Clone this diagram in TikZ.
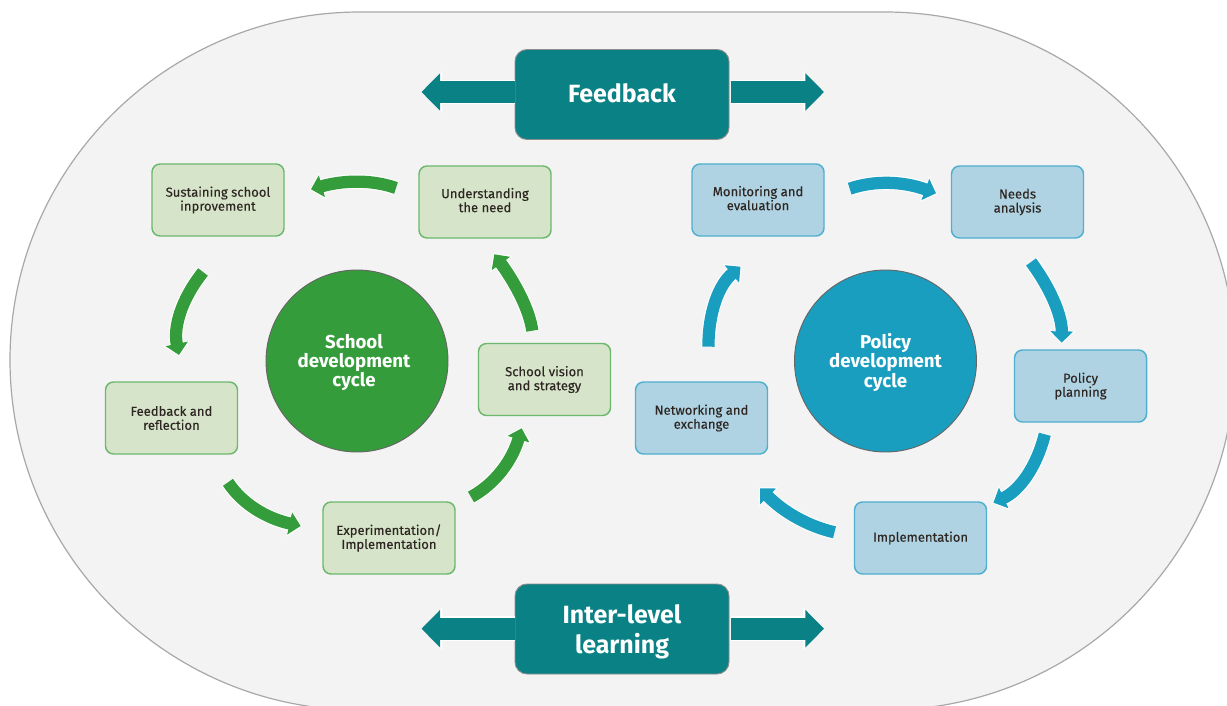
\documentclass[tikz,border=0pt]{standalone}
\usepackage{fontspec}
\setmainfont{Fira Sans}
\newfontfamily\boxfont[FakeBold=0.2]{Fira Sans}
\usetikzlibrary{arrows.meta,calc}
\definecolor{bgfill}{HTML}{F3F3F3}
\definecolor{bgline}{HTML}{A8A8A8}
\definecolor{gfill}{HTML}{D6E5C9}
\definecolor{gline}{HTML}{6DB86E}
\definecolor{gmain}{HTML}{359C3B}
\definecolor{bfill}{HTML}{AFD3E3}
\definecolor{bline}{HTML}{4FB0CF}
\definecolor{bmain}{HTML}{1A9EBF}
\definecolor{tealc}{HTML}{0A8285}
\definecolor{boxtxt}{HTML}{2E2622}
\tikzset{
  boxbase/.style={rectangle,rounded corners=6pt,line width=1.1pt,minimum width=99pt,minimum height=54pt,inner sep=0pt,align=center,text=boxtxt,font=\boxfont\fontsize{9.8}{10.5}\selectfont},
  gbox/.style={boxbase,draw=gline,fill=gfill},
  bbox/.style={boxbase,draw=bline,fill=bfill},
  hub/.style={circle,draw=black!60,line width=.7pt,minimum size=136.5pt,inner sep=0pt,align=center,text=white,font=\bfseries\fontsize{14}{14.3}\selectfont},
  tealbox/.style={rectangle,rounded corners=9pt,draw=black!45,line width=.7pt,fill=tealc,minimum width=160.5pt,minimum height=67.5pt,inner sep=0pt,align=center,text=white,font=\bfseries\fontsize{18.7}{22.4}\selectfont},
  tealhalo/.style={draw=white,line width=18.5pt,-{Triangle[length=15.5pt,width=31pt]}},
  tealarrow/.style={draw=tealc,line width=16.5pt,-{Triangle[length=14pt,width=27.5pt]}},
  curvehalo/.style={draw=white,line width=10.8pt,shorten >=-1pt,-{Triangle[length=10pt,width=20pt]}},
  gcurve/.style={draw=gmain,line width=9.2pt,-{Triangle[length=8.5pt,width=16.5pt]}},
  bcurve/.style={draw=bmain,line width=9.2pt,-{Triangle[length=8.5pt,width=16.5pt]}}
}
% moves a line of text without changing the layout of the node
\newcommand\up[2]{\raisebox{#1}[\height][\depth]{#2}}
% a curve from #2 through #3 to #4 (a parabola written as a cubic)
\newcommand\cyclearrow[4]{%
  \draw[curvehalo] (#2) .. controls ($1.3333*(#3)-0.3333*(#4)$) and ($1.3333*(#3)-0.3333*(#2)$) .. (#4);
  \draw[#1] (#2) .. controls ($1.3333*(#3)-0.3333*(#4)$) and ($1.3333*(#3)-0.3333*(#2)$) .. (#4);}
\newcommand\sidearrow[2]{%
  \draw[tealhalo] (#1) -- (#2);
  \draw[tealarrow] (#1) -- (#2);}
\begin{document}
\begin{tikzpicture}[x=0.75pt,y=-0.75pt]
\useasboundingbox (0,0) rectangle (1227,706);
% outer stadium
\path[fill=bgfill,draw=bgline,line width=.9pt]
  (360,12) -- (885,12)
  .. controls (1078,12) and (1235,168) .. (1235,360)
  .. controls (1235,553) and (1078,710) .. (885,710)
  -- (360,710)
  .. controls (167,710) and (10,553) .. (10,360)
  .. controls (10,168) and (167,12) .. (360,12) -- cycle;

% teal boxes and side arrows
\node[tealbox] (fb) at (622,94.5) {\up{0.8pt}{Feedback}};
\node[tealbox] (il) at (622,629) {\up{-2.2pt}{Inter-level}\\\up{-2.2pt}{learning}};
\coordinate (fbLt) at (421.5,92);
\coordinate (fbRs) at (731,92);
\coordinate (fbRt) at (824,92);
\coordinate (ilLt) at (421.5,628.7);
\coordinate (ilRs) at (731,628.7);
\coordinate (ilRt) at (824,628.7);
\sidearrow{fb.west |- fbLt}{fbLt}
\sidearrow{fbRs}{fbRt}
\sidearrow{il.west |- ilLt}{ilLt}
\sidearrow{ilRs}{ilRt}

% school cycle
\node[hub,fill=gmain] (sc) at (357,361) {\hspace*{-4.5pt}\up{-1.1pt}{School}\\\hspace*{-4.5pt}\up{-1.1pt}{development}\\\hspace*{-4.5pt}\up{-1.1pt}{cycle}};
\node[gbox] (sustain) at (218,200) {Sustaining school\\inprovement};
\node[gbox] (under) at (485,202) {\up{1.4pt}{Understanding}\\\up{1.4pt}{the need}};
\node[gbox] (vision) at (544.5,379.5) {School vision\\and strategy};
\node[gbox] (reflect) at (171.5,418) {Feedback and\\reflection};
\node[gbox] (exper) at (389,538) {Experimentation/\\Implementation};

\coordinate (g1s) at (396,188);     \coordinate (g1m) at (357,182);     \coordinate (g1e) at (311,189.3);
\coordinate (g2s) at (203,272);     \coordinate (g2m) at (180.7,313.3); \coordinate (g2e) at (179,355);
\coordinate (g3s) at (228,482.3);   \coordinate (g3m) at (256.7,509.3); \coordinate (g3e) at (300.7,526);
\coordinate (g4s) at (471,497);     \coordinate (g4m) at (501.7,470);   \coordinate (g4e) at (521.7,428.3);
\coordinate (g5s) at (532.3,330.7); \coordinate (g5m) at (520.7,296.7); \coordinate (g5e) at (494.3,254.3);
\cyclearrow{gcurve}{g1s}{g1m}{g1e}
\cyclearrow{gcurve}{g2s}{g2m}{g2e}
\cyclearrow{gcurve}{g3s}{g3m}{g3e}
\cyclearrow{gcurve}{g4s}{g4m}{g4e}
\cyclearrow{gcurve}{g5s}{g5m}{g5e}

% policy cycle
\node[hub,fill=bmain] (pc) at (885.5,361) {\up{-1.1pt}{Policy}\\\up{-1.1pt}{development}\\\up{-1.1pt}{cycle}};
\node[bbox] (monitor) at (758,200) {\up{1.4pt}{Monitoring and}\\\up{1.4pt}{evaluation}};
\node[bbox] (needs) at (1017.5,202) {Needs\\analysis};
\node[bbox] (plan) at (1080.5,386) {Policy\\planning};
\node[bbox] (impl) at (920.5,538) {Implementation};
\node[bbox] (network) at (701.5,418) {Networking and\\exchange};

\coordinate (b1s) at (849.7,188.7); \coordinate (b1m) at (890.3,183.3); \coordinate (b1e) at (936,193.3);
\coordinate (b2s) at (1031,262);    \coordinate (b2m) at (1054.3,303.3);\coordinate (b2e) at (1061.7,342.7);
\coordinate (b3s) at (1044.8,434.3);\coordinate (b3m) at (1025.5,476.7);\coordinate (b3e) at (993.4,502.7);
\coordinate (b4s) at (834.5,532.3); \coordinate (b4m) at (795.7,516.7); \coordinate (b4e) at (760.2,488.3);
\coordinate (b5s) at (708.4,346.7); \coordinate (b5m) at (716.5,300);   \coordinate (b5e) at (740.5,266.7);
\cyclearrow{bcurve}{b1s}{b1m}{b1e}
\cyclearrow{bcurve}{b2s}{b2m}{b2e}
\cyclearrow{bcurve}{b3s}{b3m}{b3e}
\cyclearrow{bcurve}{b4s}{b4m}{b4e}
\cyclearrow{bcurve}{b5s}{b5m}{b5e}
\end{tikzpicture}
\end{document}
